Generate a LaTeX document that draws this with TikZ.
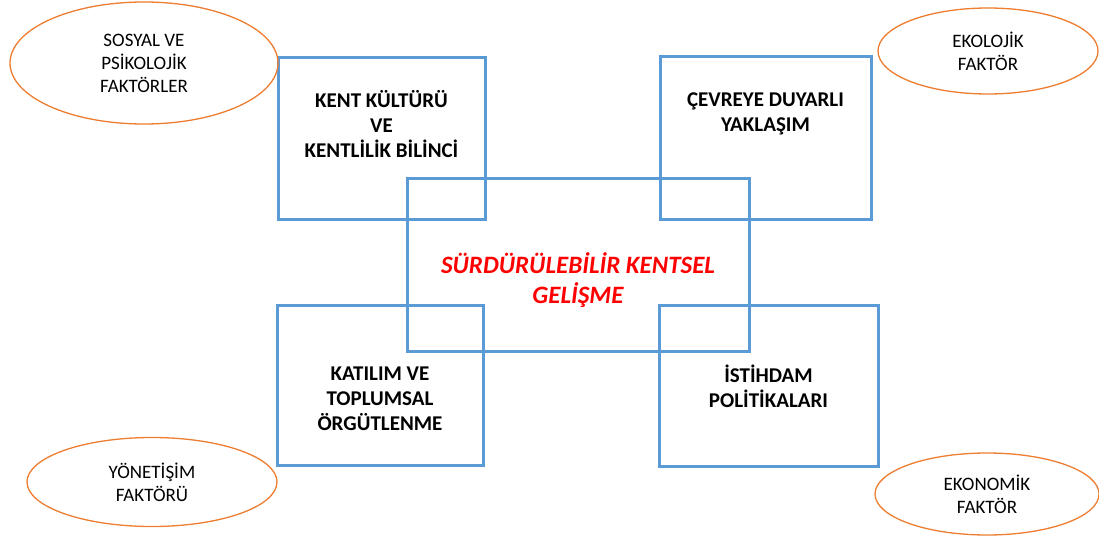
\documentclass[tikz,border=0pt]{standalone}
\usepackage{fontspec}
\setmainfont{Carlito}
\usetikzlibrary{shapes.geometric,positioning}
\definecolor{kutumavi}{RGB}{91,155,213}
\definecolor{elipsturuncu}{RGB}{237,125,49}
\definecolor{baslikkirmizi}{RGB}{255,0,0}
\begin{document}
\begin{tikzpicture}[x=1pt,y=-1pt,
 kutu/.style={draw=kutumavi,line width=3pt,inner sep=0pt},
 elips/.style={draw=elipsturuncu,line width=1.3pt,ellipse,inner sep=0pt,
   align=center,font=\fontsize{19}{23}\selectfont},
 kutuyazi/.style={align=center,inner sep=0pt,font=\bfseries\fontsize{21}{25}\selectfont},
 merkezyazi/.style={align=center,inner sep=0pt,text=baslikkirmizi,
   font=\bfseries\itshape\fontsize{25}{30}\selectfont}]
\useasboundingbox (0,0) rectangle (1099,535);
% kutular
 \node[kutu,minimum width=207pt,minimum height=161pt] (kultur) at (381.5,138.5) {};
 \node[kutu,minimum width=211pt,minimum height=162pt] (cevre) at (765.5,138) {};
 \node[kutu,minimum width=206pt,minimum height=160pt] (katilim) at (380,385) {};
 \node[kutu,minimum width=219pt,minimum height=161pt] (istihdam) at (768.5,385.5) {};
 \node[kutu,minimum width=342pt,minimum height=173pt] (merkez) at (578,264.5) {};
% kutu yazilari
 \node[kutuyazi,below=34pt of kultur.north] (kulturyazi) {KENT KÜLTÜRÜ\\VE\\KENTLİLİK BİLİNCİ};
 \node[kutuyazi,below=37pt of cevre.north] (cevreyazi) {ÇEVREYE DUYARLI\\YAKLAŞIM};
 \node[kutuyazi,below=63pt of katilim.north] (katilimyazi) {KATILIM VE\\TOPLUMSAL\\ÖRGÜTLENME};
 \node[kutuyazi,below=61pt of istihdam.north] (istihdamyazi) {İSTİHDAM\\POLİTİKALARI};
 \node[merkezyazi] (gelisme) at ([yshift=-15.5pt]merkez.center) {SÜRDÜRÜLEBİLİR KENTSEL\\GELİŞME};
% elipsler
 \node[elips,minimum width=268pt,minimum height=122pt] (sosyal) at (144,63) {SOSYAL VE\\PSİKOLOJİK\\FAKTÖRLER};
 \node[elips,minimum width=220pt,minimum height=86pt] (ekolojik) at (988,51) {EKOLOJİK\\FAKTÖR};
 \node[elips,minimum width=250pt,minimum height=89pt] (yonetisim) at (152,482) {YÖNETİŞİM\\FAKTÖRÜ};
 \node[elips,minimum width=224pt,minimum height=82pt] (ekonomik) at (987,494) {EKONOMİK\\FAKTÖR};
\end{tikzpicture}
\end{document}
